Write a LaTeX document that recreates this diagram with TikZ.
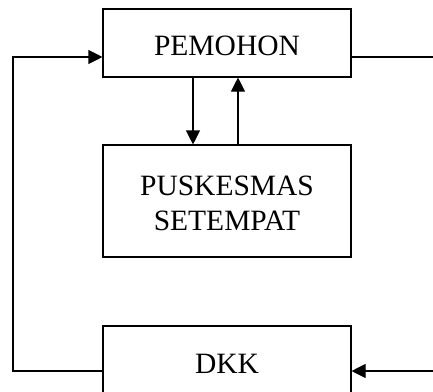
\documentclass[tikz,border=0pt]{standalone}
\usepackage{fontspec}
\setmainfont{Liberation Serif}
\usetikzlibrary{arrows.meta}
% two centred lines, lowered a little inside their box
\newcommand{\twolines}[2]{\raisebox{-5pt}[\height][\depth]{\begin{tabular}{@{}c@{}}#1\\#2\end{tabular}}}
\begin{document}
\begin{tikzpicture}[x=1pt,y=-1pt,
  box/.style={draw,line width=1.1pt,minimum width=248pt,inner sep=0pt,
    font=\fontsize{29.5}{35}\selectfont},
  oneline/.style={box,text height=24pt,text depth=0pt},
  conn/.style={line width=1.1pt},
  arr/.style={conn,-{Triangle[length=14pt,width=14pt]}}]
\useasboundingbox (0,0) rectangle (433,391);
\clip (0,0) rectangle (433,391);
\node[oneline,minimum height=68pt] (pemohon) at (227,43) {PEMOHON};
\node[box,minimum height=112pt] (puskesmas) at (227,201) {\twolines{PUSKESMAS}{SETEMPAT}};
\node[oneline,minimum height=70pt] (dkk) at (227,361) {DKK};
\coordinate (outR) at (433,57);
\coordinate (inR) at (433,371);
% exchange between applicant and health centre
\draw[arr] ([xshift=-34pt]pemohon.south) -- ([xshift=-34pt]pemohon.south |- puskesmas.north);
\draw[arr] ([xshift=11pt]puskesmas.north) -- ([xshift=11pt]puskesmas.north |- pemohon.south);
% outer loop lines
\draw[conn] (pemohon.east |- outR) -- (outR);
\draw[arr] (inR) -- (dkk.east |- inR);
\draw[arr] (dkk.west |- inR) -- (13,371) -- (13,57) -- (pemohon.west |- outR);
\end{tikzpicture}
\end{document}
